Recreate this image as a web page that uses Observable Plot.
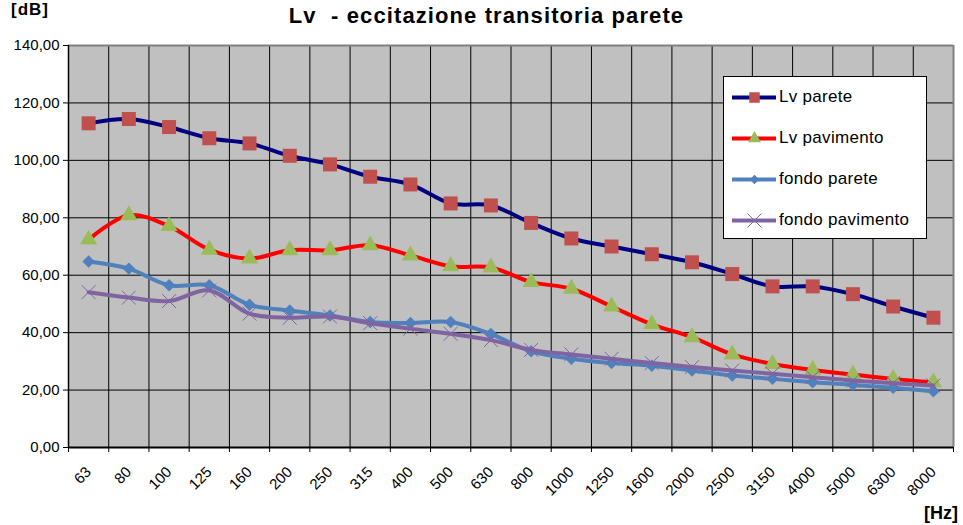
<!DOCTYPE html>
<html>
<head>
<meta charset="utf-8">
<script src="https://cdn.jsdelivr.net/npm/d3@7"></script>
<script src="https://cdn.jsdelivr.net/npm/@observablehq/plot@0.6"></script>
<style>
  html, body { margin: 0; padding: 0; background: #fff; }
  #wrap { position: relative; width: 963px; height: 525px; font-family: "Liberation Sans", Arial, sans-serif; }
  .lbl { position: absolute; font-weight: bold; color: #000; white-space: nowrap; line-height: 1.15; }
  #legend { position: absolute; left: 723px; top: 76px; width: 202px; height: 161px; background: #fff; border: 1px solid #000; }
  .row { position: absolute; left: 8px; height: 20px; display: flex; align-items: center; }
  .row span { font-size: 17px; margin-left: 3px; color: #000; letter-spacing: 0.3px; }
</style>
</head>
<body>
<div id="wrap">
  <div id="chart"></div>
  <div class="lbl" style="left:0;width:963px;text-align:center;top:3px;font-size:22px;letter-spacing:1.1px;padding-left:10px;box-sizing:border-box;">Lv&nbsp; - eccitazione transitoria parete</div>
  <div class="lbl" style="left:11px;top:0px;font-size:17px;letter-spacing:1px;">[dB]</div>
  <div class="lbl" style="left:924px;top:503px;font-size:18px;">[Hz]</div>
  <div id="legend"></div>
</div>
<script>
const categories = ["63","80","100","125","160","200","250","315","400","500","630","800","1000","1250","1600","2000","2500","3150","4000","5000","6300","8000"];
const lvParete = [112.9,114.4,111.6,107.7,105.9,101.6,98.6,94.3,91.6,85.0,84.3,78.2,72.8,70.0,67.3,64.5,60.4,56.1,56.1,53.4,49.1,45.2];
const lvPavimento = [72.4,80.9,77.1,68.9,65.8,68.7,68.7,70.4,66.9,63.1,62.7,57.6,55.3,49.1,42.9,38.4,32.4,29.1,27.0,25.4,23.9,22.7];
const fondoParete = [64.8,62.3,56.5,56.5,49.7,47.7,46.0,43.7,43.4,43.7,39.5,33.5,30.9,29.4,28.5,26.8,25.1,23.9,22.7,21.8,20.8,19.6];
const fondoPavimento = [54.1,52.2,51.0,54.7,46.6,45.2,45.6,43.3,41.4,39.6,37.4,34.0,32.4,30.9,29.4,28.0,26.8,25.7,24.5,23.3,22.4,21.6];
const yTicks = [0,20,40,60,80,100,120,140];
const seriesNames = ["Lv parete","Lv pavimento","fondo parete","fondo pavimento"];

const series = [
  {name: seriesNames[0], values: lvParete, line: "#000080", marker: "#C0504D", symbol: "square", r: 7.9},
  {name: seriesNames[1], values: lvPavimento, line: "#FF0000", marker: "#9BBB59", symbol: "triangle", r: 6.4},
  {name: seriesNames[2], values: fondoParete, line: "#4F81BD", marker: "#4F81BD", symbol: "diamond2", r: 5.6},
  {name: seriesNames[3], values: fondoPavimento, line: "#8064A2", marker: "#8064A2", symbol: "times", r: 6.4}
];

const idx = categories.map((c, i) => i);
const bounds = d3.range(-0.5, categories.length, 1);
const fmt = v => d3.format(".2f")(v).replace(".", ",");

const marks = [
  Plot.frame({fill: "#C0C0C0", stroke: "none"}),
  Plot.ruleY(yTicks.filter(d => d > 0 && d < 140), {stroke: "#000", strokeWidth: 1}),
  Plot.ruleX(bounds.filter((d, i) => i > 0 && i < bounds.length - 1), {stroke: "#000", strokeWidth: 1}),
  Plot.ruleY([140], {stroke: "#808080", strokeWidth: 2}),
  Plot.ruleX([bounds[bounds.length - 1]], {stroke: "#808080", strokeWidth: 2}),
  Plot.axisY({ticks: yTicks, tickFormat: fmt, tickSize: 5, tickPadding: 4, fontSize: 15, stroke: "#000", label: null}),
  Plot.axisX({ticks: bounds, tickFormat: () => "", tickSize: 5, stroke: "#000", label: null}),
  Plot.axisX({ticks: idx, tickFormat: i => categories[i], tickSize: 0, tickPadding: 22, tickRotate: -45, fontSize: 15, label: null}),
  Plot.ruleX([-0.5], {stroke: "#000", strokeWidth: 1.5}),
  Plot.ruleY([0], {stroke: "#000", strokeWidth: 2})
];

for (const s of series) {
  const data = s.values.map((v, i) => ({i, v}));
  marks.push(Plot.line(data, {x: "i", y: "v", stroke: s.line, strokeWidth: 4, curve: "catmull-rom"}));
  if (s.symbol === "times") {
    marks.push(Plot.dot(data, {x: "i", y: "v", symbol: s.symbol, r: s.r, stroke: s.marker, strokeWidth: 1}));
  } else {
    marks.push(Plot.dot(data, {x: "i", y: "v", symbol: s.symbol, r: s.r, fill: s.marker, stroke: "none"}));
  }
}

const chart = Plot.plot({
  width: 963,
  height: 525,
  marginLeft: 68,
  marginRight: 10,
  marginTop: 45,
  marginBottom: 78,
  style: {fontFamily: "Liberation Sans, Arial, sans-serif", color: "#000", background: "transparent"},
  x: {type: "linear", domain: [-0.5, categories.length - 0.5], label: null},
  y: {domain: [0, 140], label: null},
  marks
});
document.getElementById("chart").appendChild(chart);

// legend
const legend = document.getElementById("legend");
const rowTops = [10, 51, 92, 133];
series.forEach((s, k) => {
  const row = document.createElement("div");
  row.className = "row";
  row.style.top = rowTops[k] + "px";
  const sw = Plot.plot({
    width: 44, height: 20, margin: 0,
    x: {domain: [0, 1], axis: null}, y: {domain: [0, 1], axis: null},
    style: {background: "transparent"},
    marks: [
      Plot.line([{x: 0, y: 0.5}, {x: 1, y: 0.5}], {x: "x", y: "y", stroke: s.line, strokeWidth: 4}),
      s.symbol === "times"
        ? Plot.dot([{x: 0.5, y: 0.5}], {x: "x", y: "y", symbol: s.symbol, r: s.r, stroke: s.marker, strokeWidth: 1})
        : Plot.dot([{x: 0.5, y: 0.5}], {x: "x", y: "y", symbol: s.symbol, r: s.r * 0.75, fill: s.marker, stroke: "none"})
    ]
  });
  row.appendChild(sw);
  const t = document.createElement("span");
  t.textContent = s.name;
  row.appendChild(t);
  legend.appendChild(row);
});
</script>
</body>
</html>
